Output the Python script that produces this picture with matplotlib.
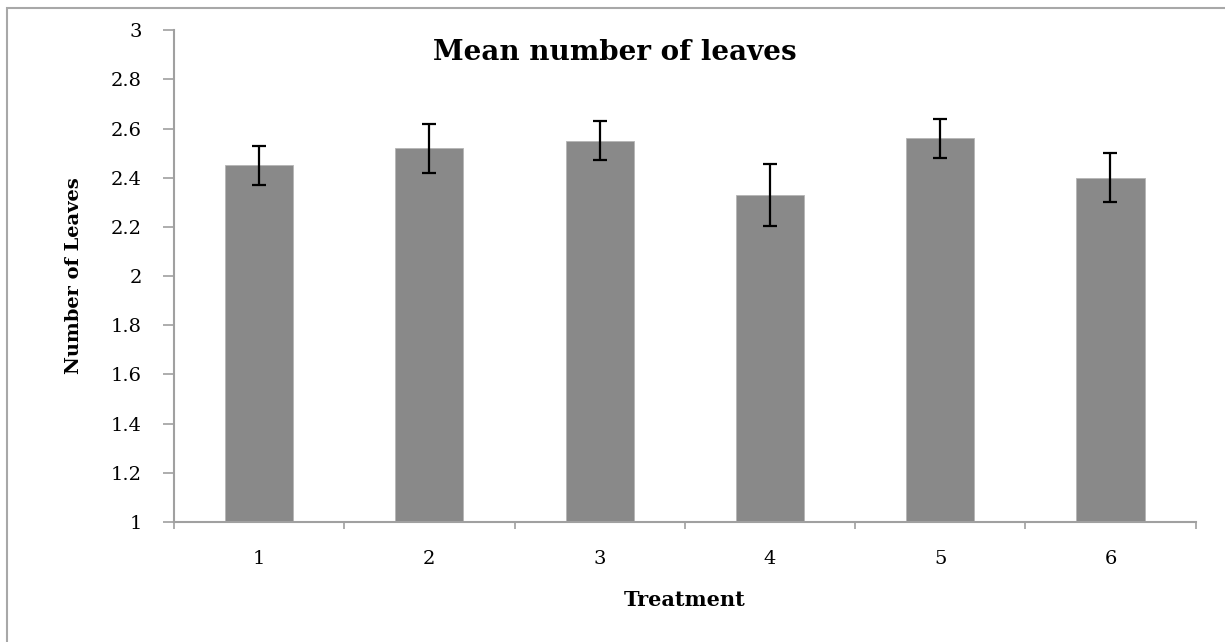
import matplotlib.pyplot as plt
from matplotlib.patches import Rectangle

treatments = ["1", "2", "3", "4", "5", "6"]
means = [2.45, 2.52, 2.55, 2.33, 2.56, 2.40]
errors = [0.08, 0.10, 0.08, 0.125, 0.08, 0.10]

plt.rcParams["font.family"] = "DejaVu Serif"

fig = plt.figure(figsize=(12.25, 6.42), dpi=100)
ax = fig.add_axes([0.142, 0.187, 0.834, 0.766])

x = list(range(len(treatments)))
ax.bar(x, [m - 1 for m in means], bottom=1, width=0.4, color="#898989",
       edgecolor="#b5b5b5", linewidth=0.6, zorder=2)
ax.errorbar(x, means, yerr=errors, fmt="none", ecolor="black",
            elinewidth=1.6, capsize=5, capthick=1.6, zorder=3)

ax.set_xlim(-0.5, len(treatments) - 0.5)
ax.set_ylim(1, 3)
ax.set_yticks([1 + 0.2 * i for i in range(11)])
ax.set_yticklabels(["1", "1.2", "1.4", "1.6", "1.8", "2", "2.2", "2.4",
                    "2.6", "2.8", "3"])
ax.set_xticks(x)
ax.set_xticklabels(treatments)
ax.set_xticks([i - 0.5 for i in range(len(treatments) + 1)], minor=True)

ax.tick_params(axis="y", direction="out", length=8, width=1.2,
               color="#a0a0a0", labelsize=14, pad=15)
ax.tick_params(axis="x", which="major", length=0, labelsize=14, pad=20)
ax.tick_params(axis="x", which="minor", direction="out", length=5,
               width=1.2, color="#a0a0a0")

for side in ["top", "right"]:
    ax.spines[side].set_visible(False)
for side in ["left", "bottom"]:
    ax.spines[side].set_color("#a0a0a0")
    ax.spines[side].set_linewidth(1.5)

ax.set_xlabel("Treatment", fontsize=15, fontweight="bold", labelpad=16)
ax.set_ylabel("Number of Leaves", fontsize=14, fontweight="bold", labelpad=20)
fig.text(0.502, 0.918, "Mean number of leaves", ha="center", va="center",
         fontsize=20, fontweight="bold")

# outer chart border, cut off at right and bottom
fig.add_artist(Rectangle((7 / 1225, -0.1), 1.2, 1.1 - 8 / 642,
                         transform=fig.transFigure, fill=False,
                         edgecolor="#a8a8a8", linewidth=1.5))

plt.savefig("out.png", dpi=100)
